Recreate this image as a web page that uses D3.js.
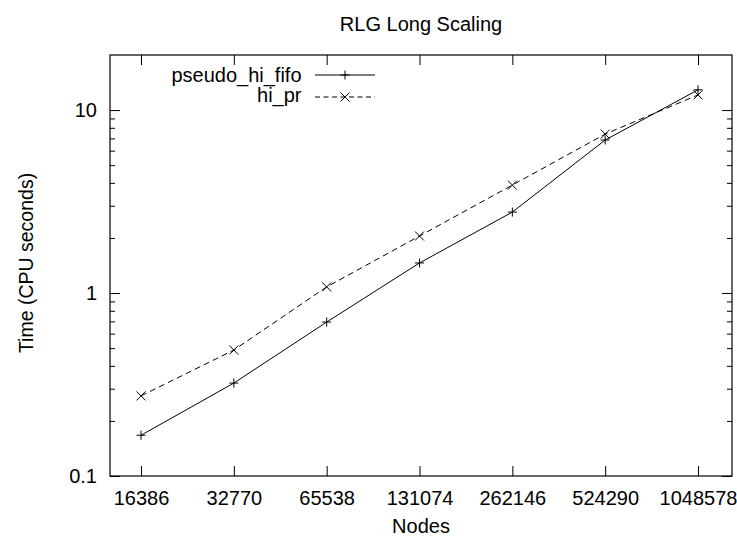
<!DOCTYPE html>
<html>
<head>
<meta charset="utf-8">
<script src="https://cdn.jsdelivr.net/npm/d3@7"></script>
<style>
  html, body { margin: 0; padding: 0; background: #fff; }
  text { font-family: "Liberation Sans", Arial, Helvetica, sans-serif; fill: #000; }
</style>
</head>
<body>
<svg id="chart" width="737" height="536"></svg>
<script>
const nodes = [16386, 32770, 65538, 131074, 262146, 524290, 1048578];
const pseudoHiFifo = [0.167, 0.322, 0.694, 1.46, 2.77, 6.86, 12.9];
const hiPr = [0.274, 0.488, 1.08, 2.05, 3.89, 7.39, 12.1];
const yTickValues = [0.1, 1, 10];
const yTickLabels = ["0.1", "1", "10"];
const seriesNames = ["pseudo_hi_fifo", "hi_pr"];

const W = 737, H = 536;
const mLeft = 110, mRight = 732, mTop = 55, mBottom = 476;
const fontSize = 20;

const svg = d3.select("#chart");

const x = d3.scaleLog().base(2)
  .domain([nodes[0] / Math.pow(2, 0.334), nodes[nodes.length - 1] * Math.pow(2, 0.366)])
  .range([mLeft, mRight]);
const y = d3.scaleLog().domain([0.1, 20]).range([mBottom, mTop]);

// minor ticks
const minor = [];
for (let d = 0.1; d < 20; d *= 10) {
  for (let k = 2; k <= 9; k++) { const v = d * k; if (v < 20) minor.push(v); }
}

const g = svg.append("g");

// Y axis left
const yAxisL = d3.axisLeft(y).tickValues(yTickValues).tickFormat((d, i) => yTickLabels[i]).tickSizeInner(-10).tickSizeOuter(0).tickPadding(13);
const gyl = g.append("g").attr("transform", `translate(${mLeft},0)`).call(yAxisL);
gyl.select(".domain").remove();
gyl.selectAll("text").style("font-size", fontSize + "px").style("font-family", "Liberation Sans, Arial, sans-serif");
g.append("g").attr("transform", `translate(${mLeft},0)`)
  .call(d3.axisLeft(y).tickValues(minor).tickFormat("").tickSizeInner(-5).tickSizeOuter(0))
  .call(s => s.select(".domain").remove());
// Y axis right
g.append("g").attr("transform", `translate(${mRight},0)`)
  .call(d3.axisRight(y).tickValues(yTickValues).tickFormat("").tickSizeInner(-10).tickSizeOuter(0))
  .call(s => s.select(".domain").remove());
g.append("g").attr("transform", `translate(${mRight},0)`)
  .call(d3.axisRight(y).tickValues(minor).tickFormat("").tickSizeInner(-5).tickSizeOuter(0))
  .call(s => s.select(".domain").remove());

// X axis bottom
const gxb = g.append("g").attr("transform", `translate(0,${mBottom})`)
  .call(d3.axisBottom(x).tickValues(nodes).tickFormat(d => String(d)).tickSizeInner(-10).tickSizeOuter(0).tickPadding(15));
gxb.select(".domain").remove();
gxb.selectAll("text").style("font-size", fontSize + "px").style("font-family", "Liberation Sans, Arial, sans-serif");
// X axis top
g.append("g").attr("transform", `translate(0,${mTop})`)
  .call(d3.axisTop(x).tickValues(nodes).tickFormat("").tickSizeInner(-10).tickSizeOuter(0))
  .call(s => s.select(".domain").remove());

g.selectAll(".tick line").attr("stroke", "#000").attr("stroke-width", 1);

// border
g.append("rect").attr("x", mLeft).attr("y", mTop).attr("width", mRight - mLeft).attr("height", mBottom - mTop)
  .attr("fill", "none").attr("stroke", "#000").attr("stroke-width", 1.2);

// lines
const line = d3.line().x((d, i) => x(nodes[i])).y(d => y(d));
g.append("path").datum(pseudoHiFifo).attr("d", line).attr("fill", "none").attr("stroke", "#000").attr("stroke-width", 1);
g.append("path").datum(hiPr).attr("d", line).attr("fill", "none").attr("stroke", "#000").attr("stroke-width", 1).attr("stroke-dasharray", "6,4");

const ms = 4.5;
function plus(sel, cx, cy) {
  sel.append("path").attr("d", `M${cx - ms},${cy}H${cx + ms}M${cx},${cy - ms}V${cy + ms}`).attr("stroke", "#000").attr("stroke-width", 1).attr("fill", "none");
}
function cross(sel, cx, cy) {
  sel.append("path").attr("d", `M${cx - ms},${cy - ms}L${cx + ms},${cy + ms}M${cx - ms},${cy + ms}L${cx + ms},${cy - ms}`).attr("stroke", "#000").attr("stroke-width", 1).attr("fill", "none");
}
pseudoHiFifo.forEach((v, i) => plus(g, x(nodes[i]), y(v)));
hiPr.forEach((v, i) => cross(g, x(nodes[i]), y(v)));

// legend
const legX = 301.5, lx1 = 315, lx2 = 375;
const legLineY = [75, 97];
const legTextY = [81.5, 102];
seriesNames.forEach((name, i) => {
  g.append("text").attr("x", legX).attr("y", legTextY[i]).attr("text-anchor", "end")
    .style("font-size", "20px").text(name);
  const l = g.append("line").attr("x1", lx1).attr("x2", lx2).attr("y1", legLineY[i]).attr("y2", legLineY[i]).attr("stroke", "#000").attr("stroke-width", 1);
  if (i === 1) l.attr("stroke-dasharray", "5,3.5");
  if (i === 0) plus(g, (lx1 + lx2) / 2, legLineY[i]); else cross(g, (lx1 + lx2) / 2, legLineY[i]);
});

// title and labels
svg.append("text").attr("x", 421).attr("y", 31).attr("text-anchor", "middle").style("font-size", fontSize + "px").text("RLG Long Scaling");
svg.append("text").attr("x", 421).attr("y", 533).attr("text-anchor", "middle").style("font-size", fontSize + "px").text("Nodes");
svg.append("text").attr("transform", "translate(33,263) rotate(-90)").attr("text-anchor", "middle").style("font-size", "19.5px").text("Time (CPU seconds)");
</script>
</body>
</html>
